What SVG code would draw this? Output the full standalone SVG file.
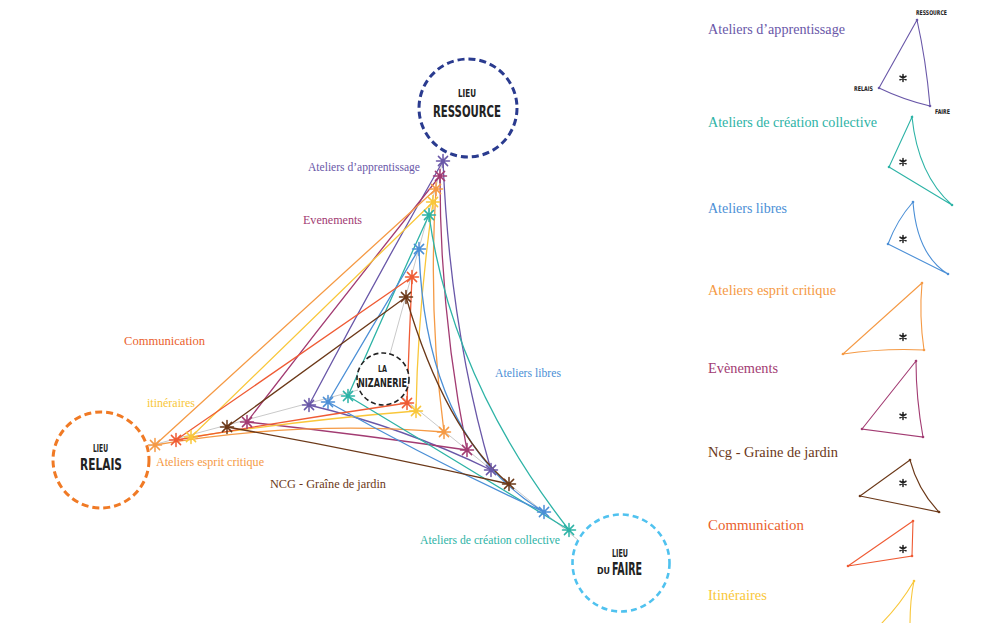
<svg xmlns="http://www.w3.org/2000/svg" xmlns:xlink="http://www.w3.org/1999/xlink" width="995" height="623" viewBox="0 0 995 623">
<style>
.edge{fill:none;stroke-width:1.3}
.spoke{fill:none;stroke:#c9c9c9;stroke-width:1}
.ast{stroke-width:1.5;stroke-linecap:round}
.lbl{font-family:"Liberation Serif","DejaVu Serif",serif;font-size:12px}
.leg{font-family:"Liberation Serif","DejaVu Serif",serif;font-size:15px}
.cap{font-family:"DejaVu Sans Condensed","DejaVu Sans","Liberation Sans",sans-serif;font-weight:bold;fill:#222;text-anchor:start}
.lt{fill:none;stroke-width:1.1}
.dot{stroke:none}
.star{stroke:#222;stroke-width:1.5;stroke-linecap:round}
.ring{fill:#fff}
</style>
<defs>
<g id="ast"><path d="M0,-6.5V6.5M-6.5,0H6.5M-4.6,-4.6L4.6,4.6M-4.6,4.6L4.6,-4.6"/></g>
<g id="star"><path d="M0,-3.5V3.5M-3,-1.75L3,1.75M-3,1.75L3,-1.75"/></g>
</defs>

<g id="connectors">
  <path class="spoke" d="M444,157 L390,354"/>
  <path class="spoke" d="M149,446 L358,390"/>
  <path class="spoke" d="M402,397 L578,540"/>
  <path id="e-purple" class="edge" stroke="#6957a8" d="M443,161 Q374,282 309,405 Q405,428 491,470 Q450,330 443,161Z"/>
  <path id="e-magenta" class="edge" stroke="#a23b72" d="M440,176 Q342,298 247,422 Q357,434 467,450 Q440,315 440,176Z"/>
  <path id="e-orange" class="edge" stroke="#f59a45" d="M436,189 Q295,317 155,445 Q300,420 444,432 Q428,310 436,189Z"/>
  <path id="e-yellow" class="edge" stroke="#f9c73a" d="M433,202 Q312,319 191,437 Q303,420 416,411 Q418,306 433,202Z"/>
  <path id="e-teal" class="edge" stroke="#2db3a6" d="M429,215 Q388,305 348,396 Q458,462 569,530 Q452,380 429,215Z"/>
  <path id="e-blue" class="edge" stroke="#4b8fd6" d="M419,249 Q373,325 328,402 Q434,462 544,512 Q425,440 419,249Z"/>
  <path id="e-red" class="edge" stroke="#ef5b34" d="M412,277 Q294,358 176,440 Q292,420 407,403 Q409,340 412,277Z"/>
  <path id="e-brown" class="edge" stroke="#6b3818" d="M406,297 Q316,362 227,427 Q368,452 509,484 Q445,430 406,297Z"/>
</g>

<g id="node-ressource">
  <circle class="ring" cx="468" cy="108" r="49" stroke="#2a3b8f" stroke-width="3" stroke-dasharray="7,4"/>
  <text class="cap" x="458" y="97" font-size="10" textLength="18" lengthAdjust="spacingAndGlyphs">LIEU</text>
  <text class="cap" x="433" y="117" font-size="16.5" textLength="68" lengthAdjust="spacingAndGlyphs">RESSOURCE</text>
</g>
<g id="node-relais">
  <circle class="ring" cx="101" cy="460" r="48" stroke="#f07a25" stroke-width="3" stroke-dasharray="7,4"/>
  <text class="cap" x="93" y="452" font-size="11" textLength="15" lengthAdjust="spacingAndGlyphs">LIEU</text>
  <text class="cap" x="80" y="470" font-size="16.5" textLength="42" lengthAdjust="spacingAndGlyphs">RELAIS</text>
</g>
<g id="node-faire">
  <circle class="ring" cx="621" cy="563" r="48.5" stroke="#50c2ef" stroke-width="2.6" stroke-dasharray="6,4"/>
  <text class="cap" x="612" y="557" font-size="11" textLength="16" lengthAdjust="spacingAndGlyphs">LIEU</text>
  <text class="cap" x="597" y="574" font-size="9.5" textLength="13" lengthAdjust="spacingAndGlyphs">DU</text>
  <text class="cap" x="612" y="575" font-size="17" textLength="30" lengthAdjust="spacingAndGlyphs">FAIRE</text>
</g>
<g id="node-nizanerie">
  <circle class="ring" cx="383" cy="379" r="26" stroke="#222" stroke-width="1.6" stroke-dasharray="5,3"/>
  <text class="cap" x="378" y="372" font-size="9" textLength="9" lengthAdjust="spacingAndGlyphs">LA</text>
  <text class="cap" x="358" y="387" font-size="13" textLength="49" lengthAdjust="spacingAndGlyphs">NIZANERIE</text>
</g>

<g id="asterisks" class="ast">
  <use xlink:href="#ast" x="443" y="161" stroke="#6957a8"/>
  <use xlink:href="#ast" x="440" y="176" stroke="#a23b72"/>
  <use xlink:href="#ast" x="436" y="189" stroke="#f59a45"/>
  <use xlink:href="#ast" x="433" y="202" stroke="#f9c73a"/>
  <use xlink:href="#ast" x="429" y="215" stroke="#2db3a6"/>
  <use xlink:href="#ast" x="419" y="249" stroke="#4b8fd6"/>
  <use xlink:href="#ast" x="412" y="277" stroke="#ef5b34"/>
  <use xlink:href="#ast" x="406" y="297" stroke="#6b3818"/>
  <use xlink:href="#ast" x="155" y="445" stroke="#f59a45"/>
  <use xlink:href="#ast" x="176" y="440" stroke="#ef5b34"/>
  <use xlink:href="#ast" x="191" y="437" stroke="#f9c73a"/>
  <use xlink:href="#ast" x="227" y="427" stroke="#6b3818"/>
  <use xlink:href="#ast" x="247" y="422" stroke="#a23b72"/>
  <use xlink:href="#ast" x="309" y="405" stroke="#6957a8"/>
  <use xlink:href="#ast" x="328" y="402" stroke="#4b8fd6"/>
  <use xlink:href="#ast" x="348" y="396" stroke="#2db3a6"/>
  <use xlink:href="#ast" x="407" y="403" stroke="#ef5b34"/>
  <use xlink:href="#ast" x="416" y="411" stroke="#f9c73a"/>
  <use xlink:href="#ast" x="444" y="432" stroke="#f59a45"/>
  <use xlink:href="#ast" x="467" y="450" stroke="#a23b72"/>
  <use xlink:href="#ast" x="491" y="470" stroke="#6957a8"/>
  <use xlink:href="#ast" x="509" y="484" stroke="#6b3818"/>
  <use xlink:href="#ast" x="544" y="512" stroke="#4b8fd6"/>
  <use xlink:href="#ast" x="569" y="530" stroke="#2db3a6"/>
</g>

<g id="labels">
  <text class="lbl" x="308" y="171" fill="#6957a8" textLength="112" lengthAdjust="spacingAndGlyphs">Ateliers d’apprentissage</text>
  <text class="lbl" x="303" y="224" fill="#a23b72" textLength="59" lengthAdjust="spacingAndGlyphs">Evenements</text>
  <text class="lbl" x="124" y="345" fill="#ea5f2e" textLength="81" lengthAdjust="spacingAndGlyphs">Communication</text>
  <text class="lbl" x="147" y="407" fill="#f9c73a" textLength="48" lengthAdjust="spacingAndGlyphs">itinéraires</text>
  <text class="lbl" x="156" y="466" fill="#f59a45" textLength="108" lengthAdjust="spacingAndGlyphs">Ateliers esprit critique</text>
  <text class="lbl" x="270" y="488" fill="#6b3818" textLength="116" lengthAdjust="spacingAndGlyphs">NCG - Graîne de jardin</text>
  <text class="lbl" x="495" y="377" fill="#4b8fd6" textLength="66" lengthAdjust="spacingAndGlyphs">Ateliers libres</text>
  <text class="lbl" x="420" y="544" fill="#2db3a6" textLength="140" lengthAdjust="spacingAndGlyphs">Ateliers de création collective</text>
</g>

<g id="legend">
  <text class="leg" x="708" y="34" fill="#6957a8" textLength="137" lengthAdjust="spacingAndGlyphs">Ateliers d’apprentissage</text>
  <text class="leg" x="708" y="127" fill="#2db3a6" textLength="169" lengthAdjust="spacingAndGlyphs">Ateliers de création collective</text>
  <text class="leg" x="708" y="213" fill="#4b8fd6" textLength="79" lengthAdjust="spacingAndGlyphs">Ateliers libres</text>
  <text class="leg" x="708" y="295" fill="#f59a45" textLength="128" lengthAdjust="spacingAndGlyphs">Ateliers esprit critique</text>
  <text class="leg" x="708" y="373" fill="#a23b72" textLength="70" lengthAdjust="spacingAndGlyphs">Evènements</text>
  <text class="leg" x="708" y="457" fill="#6b3818" textLength="130" lengthAdjust="spacingAndGlyphs">Ncg - Graine de jardin</text>
  <text class="leg" x="708" y="530" fill="#ea5f2e" textLength="96" lengthAdjust="spacingAndGlyphs">Communication</text>
  <text class="leg" x="708" y="600" fill="#f9c73a" textLength="59" lengthAdjust="spacingAndGlyphs">Itinéraires</text>

  <text class="cap" x="916" y="15" font-size="6.5" textLength="31" lengthAdjust="spacingAndGlyphs">RESSOURCE</text>
  <text class="cap" x="854" y="91" font-size="6.5" textLength="19" lengthAdjust="spacingAndGlyphs">RELAIS</text>
  <text class="cap" x="935" y="114" font-size="6.5" textLength="15" lengthAdjust="spacingAndGlyphs">FAIRE</text>

  <path class="lt" stroke="#6957a8" d="M917,20 L879,88 Q904,100 930,106 Q926,60 917,20Z"/>
  <path class="lt" stroke="#2db3a6" d="M912,117 L889,167 L952,205 Q918,175 912,117Z"/>
  <path class="lt" stroke="#4b8fd6" d="M913,202 Q897,220 888,244 L948,274 Q917,255 913,202Z"/>
  <path class="lt" stroke="#f59a45" d="M922,283 L843,354 Q884,348 924,350 Q919,316 922,283Z"/>
  <path class="lt" stroke="#a23b72" d="M916,361 L862,429 L923,437 Q916,398 916,361Z"/>
  <path class="lt" stroke="#6b3818" d="M910,460 L860,496 L939,512 Q918,490 910,460Z"/>
  <path class="lt" stroke="#ef5b34" d="M913,521 L848,566 L912,556 Z"/>
  <path class="lt" stroke="#f9c73a" d="M880,625 Q900,605 914,581 Q910,600 910,625"/>

  <g class="dot">
    <circle cx="917" cy="20" r="1.3" fill="#6957a8"/><circle cx="879" cy="88" r="1.3" fill="#6957a8"/><circle cx="930" cy="106" r="1.3" fill="#6957a8"/>
    <circle cx="912" cy="117" r="1.3" fill="#2db3a6"/><circle cx="889" cy="167" r="1.3" fill="#2db3a6"/><circle cx="952" cy="205" r="1.3" fill="#2db3a6"/>
    <circle cx="913" cy="202" r="1.3" fill="#4b8fd6"/><circle cx="888" cy="244" r="1.3" fill="#4b8fd6"/><circle cx="948" cy="274" r="1.3" fill="#4b8fd6"/>
    <circle cx="922" cy="283" r="1.3" fill="#f59a45"/><circle cx="843" cy="354" r="1.3" fill="#f59a45"/><circle cx="924" cy="350" r="1.3" fill="#f59a45"/>
    <circle cx="916" cy="361" r="1.3" fill="#a23b72"/><circle cx="862" cy="429" r="1.3" fill="#a23b72"/><circle cx="923" cy="437" r="1.3" fill="#a23b72"/>
    <circle cx="910" cy="460" r="1.3" fill="#6b3818"/><circle cx="860" cy="496" r="1.3" fill="#6b3818"/><circle cx="939" cy="512" r="1.3" fill="#6b3818"/>
    <circle cx="913" cy="521" r="1.3" fill="#ef5b34"/><circle cx="848" cy="566" r="1.3" fill="#ef5b34"/><circle cx="912" cy="556" r="1.3" fill="#ef5b34"/>
    <circle cx="914" cy="581" r="1.3" fill="#f9c73a"/>
  </g>
  <g class="star">
    <use xlink:href="#star" x="903" y="78"/>
    <use xlink:href="#star" x="903" y="162"/>
    <use xlink:href="#star" x="903" y="239"/>
    <use xlink:href="#star" x="903" y="337"/>
    <use xlink:href="#star" x="903" y="416"/>
    <use xlink:href="#star" x="903" y="483"/>
    <use xlink:href="#star" x="903" y="549"/>
  </g>
</g>
</svg>
